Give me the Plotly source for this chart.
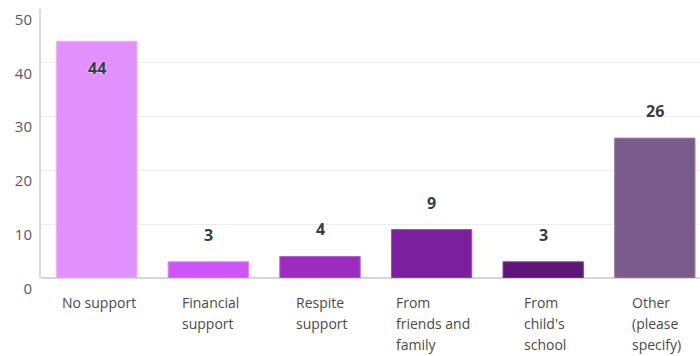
import plotly.graph_objects as go

# Survey responses: type of support received
categories = ["No support", "Financial<br>support", "Respite<br>support",
              "From<br>friends and<br>family", "From<br>child's<br>school",
              "Other<br>(please<br>specify)"]
values = [44, 3, 4, 9, 3, 26]
colors = ["#E291FC", "#D054FA", "#9B2CBF", "#7C1F9C", "#5F1678", "#7B5B8D"]
edge_colors = ["#EBB0FD", "#DC80FB", "#B460D0", "#9A55B2", "#7F4A91", "#977FA5"]
y_ticks = [0, 10, 20, 30, 40, 50]

FONT = "Open Sans, Roboto, sans-serif"
LABEL_SIZE = 14
idx = list(range(len(categories)))

# approximate Open Sans advance widths (em) for sizing label blocks
ADV = {"a": .556, "b": .613, "c": .48, "d": .613, "e": .561, "f": .336, "g": .547,
       "h": .614, "i": .252, "l": .252, "m": .93, "n": .614, "o": .602, "p": .613,
       "r": .407, "s": .477, "t": .353, "u": .614, "y": .5, "F": .525, "N": .76,
       "O": .78, "R": .6, " ": .26, "'": .2, "(": .29, ")": .29}


def text_width(s, size):
    return sum(ADV.get(ch, .56) for ch in s) * size


fig = go.Figure(go.Bar(
    x=idx, y=values,
    marker=dict(color=colors, line=dict(color=edge_colors, width=1)),
    width=0.72,
    hoverinfo="skip",
))

annotations = []
# value labels: above the bar, or just inside it for the tallest bar
for i, v in zip(idx, values):
    annotations.append(dict(
        x=i, y=v, xref="x", yref="y", text=f"<b>{v}</b>", showarrow=False,
        yanchor="middle", yshift=-27 if v >= 40 else 27,
        font=dict(family=FONT, size=16, color="#333E48", shadow="0px 0px 2px white"),
    ))

# category labels: left-aligned lines in a centred block
line_pitch = 21
for i, label in zip(idx, categories):
    lines = label.split("<br>")
    block_w = max(text_width(ln, LABEL_SIZE) for ln in lines)
    for k, ln in enumerate(lines):
        annotations.append(dict(
            x=i, y=0, xref="x", yref="paper", text=ln,
            showarrow=False, xanchor="left", yanchor="top",
            xshift=-block_w / 2, yshift=-13 - k * line_pitch,
            font=dict(family=FONT, size=LABEL_SIZE, color="#4A4A4A"),
        ))

fig.update_layout(
    width=700, height=356,
    margin=dict(l=41, r=0, t=9, b=78),
    paper_bgcolor="white", plot_bgcolor="white",
    showlegend=False,
    annotations=annotations,
    xaxis=dict(range=[-0.5, 5.405], showticklabels=False, showgrid=False,
               zeroline=False, showline=False, fixedrange=True),
    yaxis=dict(range=[0, 50], tickvals=y_ticks, showgrid=True, gridcolor="#EDEDED",
               gridwidth=1, zeroline=True, zerolinecolor="#D6D6D6", zerolinewidth=2,
               showline=True, linecolor="#D9D9D9", linewidth=2,
               ticklabelposition="outside bottom", ticks="", ticklabelstandoff=4,
               tickfont=dict(family=FONT, size=15, color="#5A5A5A")),
)

fig.write_html("out.html")
